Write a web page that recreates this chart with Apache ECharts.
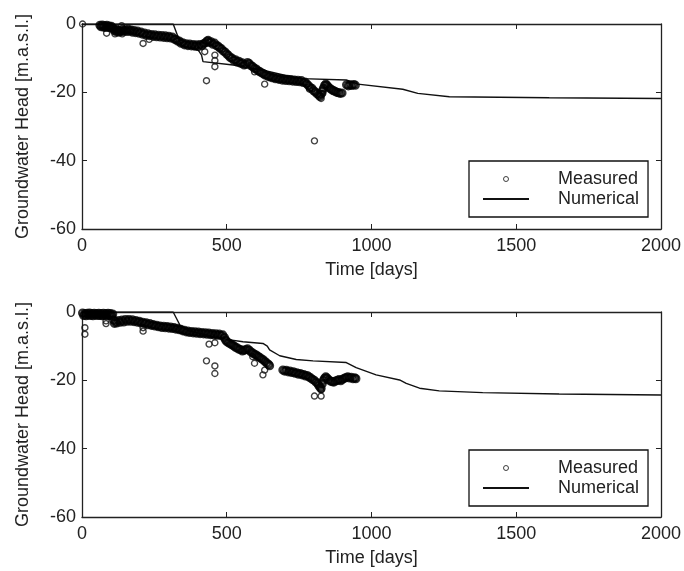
<!DOCTYPE html>
<html>
<head>
<meta charset="utf-8">
<script src="https://cdn.jsdelivr.net/npm/echarts@6/dist/echarts.min.js"></script>
<style>
  html, body { margin: 0; padding: 0; background: #fff; }
  #chart { width: 684px; height: 571px; }
</style>
</head>
<body>
<div id="chart"></div>
<script>
// measured heads, top panel [day, m.a.s.l.]
const measuredTop = [
  [62, -0.4], [66, -0.8], [70, -0.3], [74, -0.9], [78, -0.5], [82, -1.0], [86, -0.4], [90, -0.9],
  [94, -0.6], [98, -1.1], [102, -0.7], [106, -1.2],
  [108, -1.4], [112, -2.0], [116, -1.6], [120, -2.3], [124, -1.8], [128, -2.4], [132, -2.0], [136, -2.2],
  [140, -1.6], [145, -2.1], [150, -1.7], [155, -2.2], [160, -1.6], [165, -2.1], [170, -1.8], [175, -2.4],
  [180, -1.9], [186, -2.5], [192, -2.1], [198, -2.7], [204, -2.4], [210, -3.0], [216, -2.7], [222, -3.3],
  [228, -2.9], [234, -3.4], [240, -3.1], [246, -3.6], [252, -3.2], [258, -3.7], [264, -3.3], [270, -3.8],
  [276, -3.4], [282, -3.9], [288, -3.5], [294, -4.0], [300, -3.6], [306, -4.1], [312, -3.8], [318, -4.4],
  [324, -4.5], [330, -5.0], [336, -5.0], [342, -5.6], [348, -5.5], [354, -6.1], [360, -5.8], [366, -6.3],
  [372, -5.9], [378, -6.4], [384, -6.0], [390, -6.5], [396, -6.1], [402, -6.6], [408, -6.0], [414, -6.4],
  [420, -5.8], [426, -5.5], [432, -5.0], [436, -4.8], [440, -5.4], [446, -5.2], [452, -5.9], [458, -5.6],
  [464, -6.3], [470, -6.5], [476, -7.0], [482, -7.3], [488, -7.9], [494, -8.2], [500, -8.8], [506, -9.2],
  [512, -9.8], [518, -10.0], [524, -10.6], [530, -10.5], [536, -11.1], [542, -10.9], [548, -11.5], [554, -11.4],
  [560, -12.0], [566, -11.8], [572, -11.3], [578, -11.6], [584, -12.2], [590, -12.5], [596, -13.0], [602, -13.2],
  [608, -13.7], [614, -13.9], [620, -14.3], [626, -14.5], [632, -14.9], [638, -15.0], [644, -15.4], [650, -15.3],
  [656, -15.7], [662, -15.6], [668, -16.0], [674, -15.8], [680, -16.2], [686, -16.0], [692, -16.4], [698, -16.1],
  [704, -16.5], [710, -16.2], [716, -16.6], [722, -16.3], [728, -16.7], [734, -16.4], [740, -16.8], [746, -16.5],
  [752, -16.9], [758, -16.6], [764, -17.1], [770, -17.0], [776, -17.5], [782, -18.0], [788, -18.6], [794, -18.8],
  [800, -19.5], [806, -19.9], [812, -20.4], [818, -20.8], [822, -21.2], [826, -20.5], [830, -19.6], [834, -18.8],
  [838, -18.0], [842, -17.6], [846, -17.9], [850, -18.4], [856, -18.8], [862, -19.2], [868, -19.5], [874, -19.7],
  [880, -20.0], [886, -20.1], [892, -20.3], [898, -20.2],
  [914, -17.8], [920, -18.1], [926, -17.8], [932, -18.0], [938, -17.7], [944, -17.9]
];
const outliersTop = [
  [2, 0], [85, -2.7], [114, -2.9], [139, -2.9], [137, -0.5], [211, -5.7], [232, -4.5], [424, -8.1], [430, -16.6],
  [459, -9.1], [459, -10.7], [459, -12.5], [596, -14.0], [631, -17.6], [786, -19.1], [826, -21.8],
  [832, -20.3], [803, -34.2]
];
const numericalTop = [
  [0, 0], [315, 0], [338, -5.2], [349, -6.6], [401, -7.6], [413, -9.1], [418, -11.0], [522, -12.0],
  [637, -13.7], [700, -15.0], [760, -16.0], [913, -16.4], [953, -17.6], [1108, -19.1], [1160, -20.3],
  [1269, -21.3], [1614, -21.6], [2000, -21.8]
];

// measured heads, bottom panel
const measuredBottom = [
  [2, -0.3], [6, -1.0], [10, -0.5], [14, -1.1], [18, -0.4], [22, -0.9], [26, -0.3], [30, -1.0], [34, -0.5],
  [38, -1.1], [42, -0.4], [46, -0.9], [50, -0.5], [54, -1.0], [58, -0.4], [62, -1.0], [66, -0.5], [70, -1.1],
  [74, -0.4], [78, -1.0], [82, -0.5], [86, -1.1], [90, -0.4], [94, -1.0], [98, -0.5], [102, -1.1], [106, -0.6],
  [110, -2.4], [112, -3.3], [116, -2.7], [120, -3.2], [126, -2.5], [132, -3.0], [138, -2.4], [144, -2.9],
  [150, -2.2], [156, -2.7], [162, -2.2], [168, -2.7], [174, -2.3], [180, -2.8], [186, -2.5], [192, -3.0],
  [198, -2.7], [204, -3.2], [210, -3.0], [216, -3.4], [222, -3.2], [228, -3.7], [234, -3.4], [240, -3.9],
  [246, -3.7], [252, -4.1], [258, -3.9], [264, -4.3], [270, -4.1], [276, -4.5], [282, -4.2], [288, -4.6],
  [294, -4.3], [300, -4.7], [306, -4.4], [312, -4.8], [318, -4.6], [324, -5.0], [330, -4.8], [336, -5.2],
  [342, -5.1], [348, -5.5], [354, -5.4], [360, -5.8], [366, -5.6], [372, -6.0], [378, -5.7], [384, -6.1],
  [390, -5.8], [396, -6.2], [402, -5.9], [408, -6.3], [414, -6.0], [420, -6.4], [426, -6.1], [432, -6.5],
  [438, -6.2], [444, -6.6], [450, -6.3], [456, -6.7], [462, -6.4], [468, -6.8], [474, -6.5], [480, -6.9],
  [486, -6.7], [492, -7.5], [496, -8.2], [500, -8.6], [506, -9.0], [512, -9.3], [518, -9.6], [524, -9.9],
  [530, -10.3], [536, -10.5], [542, -10.9], [548, -11.0], [554, -11.4], [560, -11.2], [566, -11.0], [572, -10.8],
  [578, -11.2], [584, -11.7], [590, -12.0], [596, -12.4], [602, -12.6], [608, -13.0], [614, -13.3], [620, -13.7],
  [626, -14.0], [632, -14.5], [638, -14.9], [644, -15.3], [648, -15.7],
  [694, -17.0], [700, -17.3], [706, -17.1], [712, -17.5], [718, -17.3], [724, -17.7], [730, -17.5], [736, -17.9],
  [742, -17.8], [748, -18.2], [754, -18.0], [760, -18.4], [766, -18.3], [772, -18.7], [778, -18.6], [784, -19.0],
  [790, -19.3], [796, -19.7], [802, -20.0], [808, -20.5], [814, -20.9], [818, -21.5], [822, -22.0], [826, -22.4],
  [830, -21.0], [834, -20.0], [838, -19.4], [842, -19.0], [846, -19.3], [852, -19.8], [858, -20.2], [864, -20.4],
  [870, -20.5], [876, -20.2], [882, -20.0], [888, -19.8], [894, -20.1], [900, -19.7], [906, -19.4], [912, -19.2],
  [918, -19.0], [924, -19.3], [930, -19.1], [936, -19.5], [942, -19.3], [946, -19.5]
];
const outliersBottom = [
  [10, -4.6], [10, -6.5], [83, -2.6], [83, -3.4], [211, -4.6], [211, -5.6], [430, -14.3], [439, -9.4],
  [459, -9.0], [459, -15.8], [459, -18.0], [590, -13.1], [596, -15.0], [625, -18.4], [631, -17.0],
  [803, -24.6], [826, -24.6], [826, -22.8]
];
const numericalBottom = [
  [0, 0], [315, 0], [338, -3.8], [372, -5.6], [420, -6.5], [447, -7.2], [499, -8.0], [556, -8.7],
  [625, -9.2], [640, -10.0], [648, -11.1], [683, -12.8], [740, -13.9], [798, -14.3], [913, -14.8],
  [947, -16.3], [1016, -18.4], [1097, -19.9], [1120, -20.9], [1166, -22.3], [1234, -23.1], [1384, -23.6],
  [1648, -24.0], [2000, -24.3]
];

const xTicks = [0, 500, 1000, 1500, 2000];
const yTicks = [-60, -40, -20, 0];

const chart = echarts.init(document.getElementById('chart'));
const ink = '#222';
const font = 'Liberation Sans, Arial, Helvetica, sans-serif';

function xAxes (gridIndex) {
  const base = {
    gridIndex: gridIndex,
    type: 'value',
    min: xTicks[0],
    max: xTicks[xTicks.length - 1],
    interval: 500,
    splitLine: { show: false },
    axisLine: { show: true, onZero: false, lineStyle: { color: ink, width: 1.3 } },
    axisTick: { show: true, inside: true, length: 5, lineStyle: { color: ink } }
  }
  return [
    Object.assign({}, base, {
      position: 'bottom',
      name: 'Time [days]',
      nameLocation: 'middle',
      nameGap: 32,
      nameTextStyle: { color: ink, fontSize: 18, fontFamily: font },
      axisLabel: { color: ink, fontSize: 18, fontFamily: font, margin: 8, formatter: v => String(v) }
    }),
    Object.assign({}, base, { position: 'top', axisLabel: { show: false } })
  ]
}

function yAxes (gridIndex) {
  const base = {
    gridIndex: gridIndex,
    type: 'value',
    min: yTicks[0],
    max: yTicks[yTicks.length - 1],
    interval: 20,
    splitLine: { show: false },
    axisLine: { show: true, onZero: false, lineStyle: { color: ink, width: 1.3 } },
    axisTick: { show: true, inside: true, length: 5, lineStyle: { color: ink } }
  }
  return [
    Object.assign({}, base, {
      position: 'left',
      name: 'Groundwater Head [m.a.s.l.]',
      nameLocation: 'middle',
      nameGap: 50,
      nameTextStyle: { color: ink, fontSize: 18, fontFamily: font },
      axisLabel: { color: ink, fontSize: 18, fontFamily: font, margin: 6, formatter: v => String(v) }
    }),
    Object.assign({}, base, { position: 'right', axisLabel: { show: false } })
  ]
}

function panelSeries (idx, measured, outliers, numerical) {
  return [
    {
      name: 'Numerical',
      type: 'line',
      xAxisIndex: idx * 2,
      yAxisIndex: idx * 2,
      data: numerical,
      showSymbol: false,
      symbol: 'none',
      itemStyle: { color: '#111' },
      lineStyle: { color: '#111', width: 1.4 },
      z: 2
    },
    // scattered single readings
    {
      name: 'Measured',
      type: 'scatter',
      xAxisIndex: idx * 2,
      yAxisIndex: idx * 2,
      data: outliers,
      symbol: 'circle',
      symbolSize: 6,
      itemStyle: { color: 'rgba(0,0,0,0)', borderColor: '#111', borderWidth: 1.4 },
      z: 3
    },
    // dense record, overlapping rings give a dark band
    {
      name: 'Measured',
      type: 'scatter',
      xAxisIndex: idx * 2,
      yAxisIndex: idx * 2,
      data: measured,
      symbol: 'circle',
      symbolSize: 7,
      itemStyle: { color: 'rgba(0,0,0,0)', borderColor: '#000', borderWidth: 2.2 },
      z: 3
    }
  ]
}

function legendBox (top) {
  return {
    left: 469,
    top: top,
    orient: 'vertical',
    selectedMode: false,
    data: [
      { name: 'Measured', itemStyle: { color: '#fff', borderColor: '#111', borderWidth: 1 } },
      { name: 'Numerical', itemStyle: { color: 'rgba(0,0,0,0)', borderColor: 'rgba(0,0,0,0)' } }
    ],
    backgroundColor: '#fff',
    borderColor: '#111',
    borderWidth: 1.3,
    padding: [9, 9, 9, 13],
    itemGap: 2,
    itemWidth: 46,
    itemHeight: 5,
    textStyle: { color: ink, fontSize: 18, fontFamily: font, padding: [0, 0, 0, 24] }
  }
}

const option = {
  backgroundColor: '#fff',
  animation: false,
  grid: [
    { left: 82, top: 24, width: 580, height: 205 },
    { left: 82, top: 312, width: 580, height: 205 }
  ],
  xAxis: xAxes(0).concat(xAxes(1)),
  yAxis: yAxes(0).concat(yAxes(1)),
  legend: [legendBox(161), legendBox(450)],
  series: panelSeries(0, measuredTop, outliersTop, numericalTop)
    .concat(panelSeries(1, measuredBottom, outliersBottom, numericalBottom))
}

chart.setOption(option)
</script>
</body>
</html>
